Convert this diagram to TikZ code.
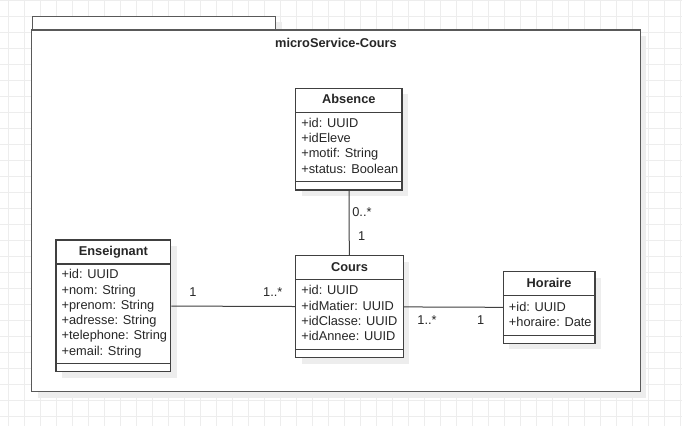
\documentclass[tikz,border=0pt]{standalone}
\usepackage{fontspec}
\setmainfont{Liberation Sans}
\usetikzlibrary{calc,shadows}

\begin{document}
\begin{tikzpicture}[x=1pt,y=-1pt,
    gridline/.style={draw=black!7,line width=1pt},
    pkgbox/.style={draw=black!65,line width=1.3pt,fill=white,inner sep=0pt,
      general shadow={draw=none,fill=black!7,shadow xshift=6pt,shadow yshift=-6pt}},
    classbox/.style={draw=black!75,line width=1.1pt,fill=white,inner sep=0pt,
      general shadow={draw=none,fill=black!7,shadow xshift=6pt,shadow yshift=-6pt}},
    classname/.style={font=\fontsize{12.8}{15.3}\selectfont\bfseries,text=black!85,
      text height=9.3pt,text depth=2.5pt,inner sep=0pt},
    attrs/.style={font=\fontsize{12.8}{15.3}\selectfont,text=black!85,
      align=left,inner sep=0pt,anchor=north west},
    sepline/.style={draw=black!75,line width=1.1pt},
    assoc/.style={draw=black!75,line width=1pt},
    mult/.style={font=\fontsize{12.8}{15.3}\selectfont,text=black!85,inner sep=1pt}]

  \useasboundingbox (0,0) rectangle (682,426);

  % background grid
  \foreach \i in {0,...,42}
    \draw[gridline] ({8.3+16*\i},0) -- ({8.3+16*\i},426);
  \foreach \i in {0,...,26}
    \draw[gridline] (0,{0.3+16*\i}) -- (682,{0.3+16*\i});

  % package
  \node[pkgbox,anchor=north west,minimum width=243.3pt,minimum height=14.3pt] (pkg-tab) at (31.7,15.7) {};
  \node[pkgbox,minimum width=608.6pt,minimum height=361.7pt] (pkg) at (336,210.85) {};
  \node[classname] (pkg-title) at ($(pkg.north)+(0,15)$) {microService-Cours};

  % classes
  \node[classbox,minimum width=106.3pt,minimum height=101.7pt] (absence) at (348.85,139.15) {};
  \node[classbox,minimum width=107.6pt,minimum height=102pt] (cours) at (349.5,306.7) {};
  \node[classbox,minimum width=114.7pt,minimum height=131.7pt] (enseignant) at (113.35,305.85) {};
  \node[classbox,minimum width=91.7pt,minimum height=71.6pt] (horaire) at (549.15,307.5) {};

  \foreach \c/\t in {absence/Absence,cours/Cours,enseignant/Enseignant,horaire/Horaire} {
    \node[classname] (\c-name) at ($(\c.north)+(0,12.5)$) {\t};
    \draw[sepline] ($(\c.north west)+(0,24.5)$) -- ($(\c.north east)+(0,24.5)$);
    \draw[sepline] ($(\c.south west)+(0,-8.7)$) -- ($(\c.south east)+(0,-8.7)$);
  }

  \node[attrs] (absence-attr) at ($(absence.north west)+(6,30)$)
    {+id: UUID\\+idEleve\\+motif: String\\+status: Boolean};
  \node[attrs] (cours-attr) at ($(cours.north west)+(6,30.3)$)
    {+id: UUID\\+idMatier: UUID\\+idClasse: UUID\\+idAnnee: UUID};
  \node[attrs] (enseignant-attr) at ($(enseignant.north west)+(6,29.8)$)
    {+id: UUID\\+nom: String\\+prenom: String\\+adresse: String\\+telephone: String\\+email: String};
  \node[attrs] (horaire-attr) at ($(horaire.north west)+(6,31)$)
    {+id: UUID\\+horaire: Date};

  % associations
  \draw[assoc] (enseignant) -- (cours)
    node[mult,pos=.176,above=8.4pt] {1}
    node[mult,pos=.82,above=8.4pt] {1..*};
  \draw[assoc] (cours) -- (horaire)
    node[mult,pos=.234,below=6.7pt] {1..*}
    node[mult,pos=.777,below=6.7pt] {1};
  \draw[assoc] (absence) -- (cours)
    node[mult,pos=.335,anchor=west,xshift=1.7pt] {0..*}
    node[mult,pos=.71,anchor=west,xshift=7.4pt] {1};

\end{tikzpicture}
\end{document}
